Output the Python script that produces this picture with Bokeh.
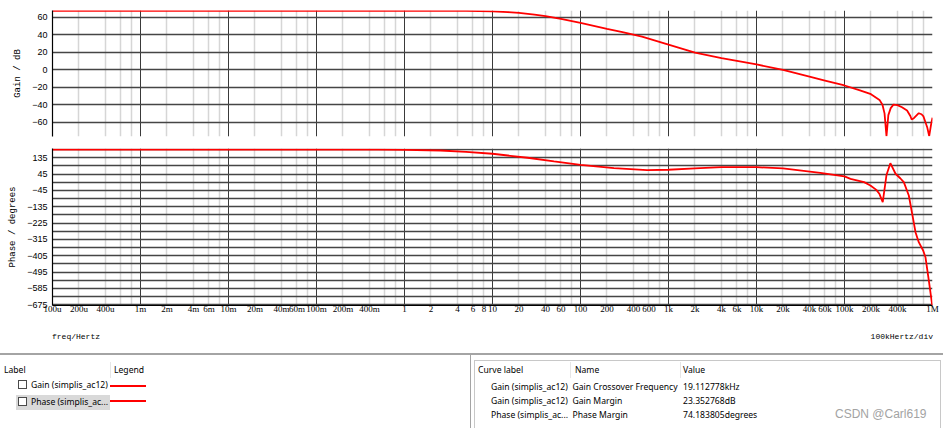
from bokeh.plotting import figure
from bokeh.models import Range1d, FixedTicker, Grid, Div
from bokeh.layouts import column
from bokeh.embed import file_html
from bokeh.resources import INLINE

# ---------------- data ----------------
freq_gain = [1e-4, 1.0, 5.0, 10.0, 15.0, 20.0, 30.0, 40.0, 60.0, 100.0, 200.0, 300.0,
             500.0, 1e3, 2e3, 4e3, 6e3, 1e4, 2e4, 4e4, 6e4, 1e5, 1.5e5, 2e5, 2.5e5,
             2.7e5, 2.85e5, 3.0e5, 3.15e5, 3.35e5, 3.6e5, 4.0e5, 4.5e5, 5.14e5, 5.6e5,
             5.8e5, 6.14e5, 6.98e5, 7.5e5, 7.9e5, 8.7e5, 9.17e5, 9.66e5, 1e6]
gain_db = [67.7, 67.7, 67.5, 67.0, 66.2, 65.2, 63.2, 61.5, 58.3, 53.9, 47.0, 43.2,
           38.0, 28.9, 19.6, 13.3, 10.3, 6.1, 0.0, -7.7, -12.3, -18.0, -23.5, -28.0, -34.5,
           -40.0, -50.0, -76.0, -52.0, -44.0, -40.0, -40.5, -43.0, -46.7, -53.0,
           -57.0, -55.5, -49.8, -51.0, -53.5, -65.8, -76.0, -62.0, -55.0]

freq_phase = [1e-4, 0.5, 1.0, 2.56, 5.0, 10.0, 25.0, 50.0, 100.0, 240.0, 570.0, 1e3,
              2e3, 4e3, 1e4, 2e4, 5.3e4, 1e5, 1.17e5, 1.67e5, 1.97e5, 2.3e5, 2.5e5,
              2.72e5, 3.0e5, 3.32e5, 3.8e5, 4.3e5, 4.72e5, 5.38e5, 5.88e5, 6.41e5,
              6.98e5, 7.83e5, 8.32e5, 9.08e5, 9.93e5]
phase_deg = [180.0, 179.5, 178.5, 175.0, 167.0, 157.0, 135.0, 115.0, 96.0, 78.0, 67.0, 68.9,
             76.0, 83.0, 83.0, 76.0, 52.0, 32.0, 19.0, 0.5, -17.6, -42.0, -65.0,
             -110.0, 40.0, 105.0, 47.0, 22.0, 0.6, -73.0, -174.0, -275.0,
             -330.0, -376.0, -413.0, -541.0, -679.0]

x_tick_values = [1e-4, 2e-4, 4e-4, 1e-3, 2e-3, 4e-3, 6e-3, 1e-2, 2e-2, 4e-2, 6e-2,
                 1e-1, 2e-1, 4e-1, 1.0, 2.0, 4.0, 6.0, 8.0, 10.0, 20.0, 40.0, 60.0,
                 100.0, 200.0, 400.0, 600.0, 1e3, 2e3, 4e3, 6e3, 1e4, 2e4, 4e4, 6e4,
                 1e5, 2e5, 4e5, 1e6]
x_tick_labels = ["100u", "200u", "400u", "1m", "2m", "4m", "6m", "10m", "20m", "40m", "60m",
                 "100m", "200m", "400m", "1", "2", "4", "6", "8", "10", "20", "40", "60",
                 "100", "200", "400", "600", "1k", "2k", "4k", "6k", "10k", "20k", "40k", "60k",
                 "100k", "200k", "400k", "1M"]
x_decades = [1e-4, 1e-3, 1e-2, 1e-1, 1.0, 10.0, 100.0, 1e3, 1e4, 1e5, 1e6]
x_minor = [m * d for d in x_decades[:-1] for m in (2, 4, 6, 8)]

gain_ticks = [-60, -40, -20, 0, 20, 40, 60]
phase_label_ticks = [-675, -585, -495, -405, -315, -225, -135, -45, 45, 135]
phase_grid_ticks = list(range(-675, 181, 45))

x_axis_title = "freq/Hertz"
x_axis_scale = "100kHertz/div"
legend_header = ["Label", "Legend"]
curve_labels = ["Gain (simplis_ac12)", "Phase (simplis_ac..."]
measure_header = ["Curve label", "Name", "Value"]
measure_curves = ["Gain (simplis_ac12)", "Gain (simplis_ac12)", "Phase (simplis_ac..."]
measure_names = ["Gain Crossover Frequency", "Gain Margin", "Phase Margin"]
measure_values = ["19.112778kHz", "23.352768dB", "74.183805degrees"]
watermark = "CSDN @Carl619"

# ---------------- styles ----------------
W = 943
RED = "#ff0000"
HGRID = "#454545"
VMAJ = "#3a3a3a"
VMIN = "#d6d6d6"


def style_yaxis(p, label, ticks):
    ax = p.yaxis[0]
    ax.ticker = FixedTicker(ticks=ticks, minor_ticks=[])
    ax.axis_label = label
    ax.axis_label_text_font = "Liberation Mono"
    ax.axis_label_text_font_size = "9px"
    ax.axis_label_text_font_style = "normal"
    ax.axis_label_text_color = "#000000"
    ax.axis_label_standoff = 6
    ax.major_label_text_font = "Liberation Sans"
    ax.major_label_text_font_size = "9px"
    ax.major_label_text_color = "#000000"
    ax.major_label_standoff = 5
    ax.major_tick_out = 0
    ax.major_tick_in = 0
    ax.minor_tick_out = 0
    ax.minor_tick_in = 0
    ax.axis_line_color = "#000000"
    ax.axis_line_width = 1.2


def add_grids(p, yticks):
    p.add_layout(Grid(dimension=0, ticker=FixedTicker(ticks=x_minor),
                      grid_line_color=VMIN, grid_line_width=1.5))
    p.add_layout(Grid(dimension=0, ticker=FixedTicker(ticks=x_decades),
                      grid_line_color=VMAJ, grid_line_width=1))
    p.add_layout(Grid(dimension=1, ticker=FixedTicker(ticks=yticks),
                      grid_line_color=HGRID, grid_line_width=1.5))


# ---------------- gain plot ----------------
gain = figure(width=W, height=142, x_axis_type="log",
              x_range=Range1d(1e-4, 1e6), y_range=Range1d(-76.5, 68),
              x_axis_location=None, output_backend="svg", toolbar_location=None,
              min_border_left=52, min_border_right=11, min_border_top=10,
              min_border_bottom=6, outline_line_color=None,
              background_fill_color="white", border_fill_color="white")
gain.ygrid.visible = False
style_yaxis(gain, "Gain / dB", gain_ticks)
add_grids(gain, gain_ticks)
gain.line(freq_gain, gain_db, line_color=RED, line_width=1.8)

# ---------------- phase plot ----------------
phase = figure(width=W, height=179, x_axis_type="log",
               x_range=gain.x_range, y_range=Range1d(-679, 186),
               output_backend="svg", toolbar_location=None,
               min_border_left=52, min_border_right=11, min_border_top=6,
               min_border_bottom=16, outline_line_color=None,
               background_fill_color="white", border_fill_color="white")
phase.xgrid.visible = False
phase.ygrid.visible = False
style_yaxis(phase, "Phase / degrees", phase_label_ticks)
add_grids(phase, phase_grid_ticks)
xa = phase.xaxis[0]
xa.ticker = FixedTicker(ticks=x_tick_values, minor_ticks=[])
xa.major_label_overrides = dict(zip(x_tick_values, x_tick_labels))
xa.major_label_text_font = "Liberation Serif"
xa.major_label_text_font_size = "9px"
xa.major_label_text_color = "#000000"
xa.major_label_standoff = -2
xa.major_tick_out = 0
xa.major_tick_in = 0
xa.minor_tick_out = 0
xa.minor_tick_in = 0
xa.axis_line_color = "#000000"
xa.axis_line_width = 1.2
phase.line(freq_phase, phase_deg, line_color=RED, line_width=1.8)

# ---------------- bottom panel (axis notes, legend, measurements) ----------------
TOP = 321   # page y where the panel starts
PH = 107    # panel height


def txt(s, x, cy, size=8.6, font="'Noto Sans'", color="#000", lh=12, align="left"):
    top = cy - lh / 2 - TOP
    pos = f"left:{x}px;" if align == "left" else f"right:{W - x}px;"
    return (f'<span style="position:absolute;{pos}top:{top}px;font-family:{font};'
            f'font-size:{size}px;line-height:{lh}px;color:{color};white-space:nowrap">{s}</span>')


def box(x0, y0, x1, y1, bg=None, border=None):
    st = (f"position:absolute;left:{x0}px;top:{y0 - TOP}px;width:{x1 - x0}px;"
          f"height:{y1 - y0}px;box-sizing:border-box;")
    if bg:
        st += f"background:{bg};"
    if border:
        st += f"border:{border};"
    return f'<div style="{st}"></div>'


parts = []
parts.append(txt(x_axis_title, 52, 336.5, size=8, font="'Liberation Mono'"))
parts.append(txt(x_axis_scale, 933, 336.5, size=8, font="'Liberation Mono'", align="right"))
# frame lines
parts.append(box(0, 353, 943, 355, bg="#a4a4a4"))
parts.append(box(469.5, 353, 471, 428, bg="#a4a4a4"))
parts.append(box(473.5, 359.5, 941, 360.5, bg="#c8c8c8"))
parts.append(box(473.5, 359.5, 474.5, 428, bg="#c8c8c8"))
parts.append(box(939.5, 359.5, 940.5, 428, bg="#c8c8c8"))
for cx in (110, 570, 680):
    parts.append(box(cx, 362, cx + 1, 378, bg="#e6e6e6"))
# legend
parts.append(box(16, 394.5, 110, 409.5, bg="#d9d9d9"))
parts.append(box(18, 380, 27, 389, bg="#ffffff", border="1px solid #4a4a4a"))
parts.append(box(18, 397, 27, 406, bg="#ffffff", border="1px solid #4a4a4a"))
parts.append(box(110, 384.5, 146, 386.5, bg=RED))
parts.append(box(110, 400, 146, 402, bg=RED))
parts.append(txt(legend_header[0], 4, 370))
parts.append(txt(legend_header[1], 114, 370))
parts.append(txt(curve_labels[0], 31, 384.5))
parts.append(txt(curve_labels[1], 31, 401.5))
# measurements
for hx, h in zip((478, 575, 683), measure_header):
    parts.append(txt(h, hx, 370))
for ry, c, n, v in zip((386.7, 400.7, 415), measure_curves, measure_names, measure_values):
    parts.append(txt(c, 491, ry))
    parts.append(txt(n, 572.5, ry))
    parts.append(txt(v, 683, ry))
parts.append(txt(watermark, 835, 413.5, size=12, font="'Liberation Sans'", color="#a3a3a3", lh=14))

panel_html = (f'<div style="position:relative;width:{W}px;height:{PH}px;overflow:hidden;background:#fff">'
              + "".join(parts) + "</div>")
panel = Div(text=panel_html, width=W, height=PH, margin=0)

layout = column(gain, phase, panel, spacing=0)
open("out.html", "w").write(file_html(layout, INLINE))
